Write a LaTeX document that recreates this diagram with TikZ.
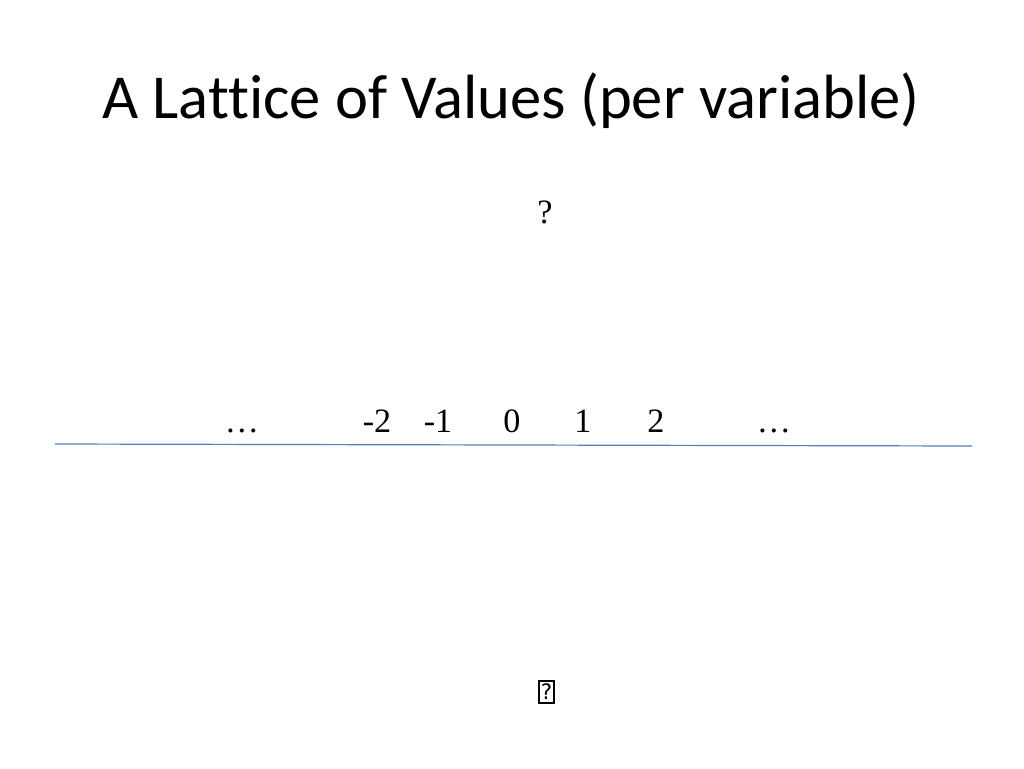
\documentclass[tikz,border=0pt]{standalone}
\usepackage{fontspec}
\setmainfont{Liberation Serif}
\newfontfamily\titlefont[Ligatures=NoCommon]{Carlito}
\newfontfamily\boxfont{DejaVu Sans}
\definecolor{rulecol}{HTML}{4F81BD}
\begin{document}
\begin{tikzpicture}[x=0.75pt,y=-0.75pt,
  title/.style={font=\titlefont\fontsize{46.9}{56}\selectfont, anchor=base, inner sep=0pt},
  val/.style={font=\fontsize{25.6}{30}\selectfont, anchor=base, inner sep=0pt},
  missing/.style={draw, line width=1.3pt, minimum width=15*0.75pt, minimum height=22*0.75pt, inner sep=0pt, font=\boxfont\fontsize{16}{18}\selectfont}]
\useasboundingbox (0,0) rectangle (1024,768);
\node[title] (t) at (511,118) {A Lattice of Values (per variable)};
\node[val] (top) at (545,223) {?};
\node[val] (ldots) at (242,432) {…};
\node[val] (m2) at (377,432) {-2};
\node[val] (m1) at (438,432) {-1};
\node[val] (z) at (512,432) {0};
\node[val] (p1) at (583,432) {1};
\node[val] (p2) at (656,432) {2};
\node[val] (rdots) at (774,432) {…};
\coordinate (la) at (55,444);
\coordinate (lb) at (972,446);
\draw[rulecol, line width=0.9pt] (la) -- (lb);
\node[missing] (bot) at (546.5,692) {?};
\end{tikzpicture}
\end{document}
